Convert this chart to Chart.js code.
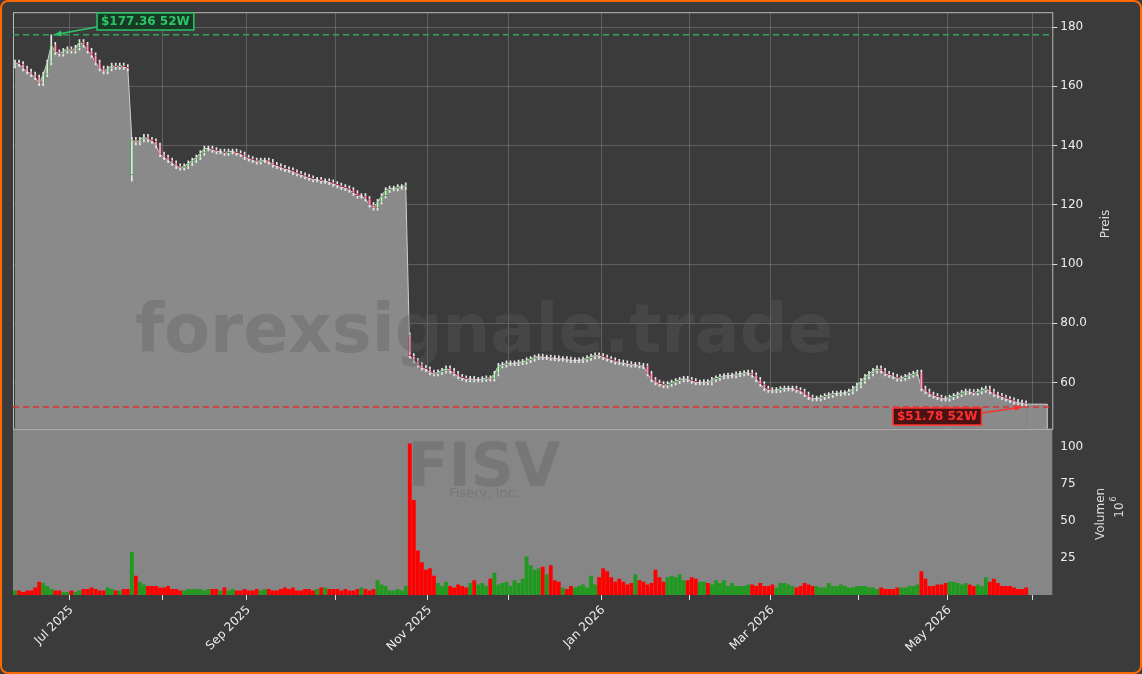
<!DOCTYPE html>
<html>
<head>
<meta charset="utf-8">
<script src="https://cdn.jsdelivr.net/npm/chart.js@4.4.1/dist/chart.umd.min.js"></script>
<style>
  html, body { margin: 0; padding: 0; background: #3b3b3b; }
  #wrap { width: 1138px; height: 670px; border: 2px solid #ff6a00; border-radius: 8px; background: #3b3b3b; overflow: hidden; }
</style>
</head>
<body>
<div id="wrap"><canvas id="c" width="1138" height="670"></canvas></div>
<script>
// Schlusskurse, erster Handelstag 11.06.2025
const closes = [
  168,167.5,166,165,164,163,161,164,168,174,
  171.5,171,172,172.5,172,173,175,174,172,170.5,
  168,166,165,166,167,166.5,167,166.5,166,142,
  141,142,143,142,141.5,140,137,136,135,134,
  133,132.5,133,134,135,136,137.5,139,139,138.5,
  138,138,137.5,138,138,137.5,137,136,135.5,135,
  134.5,135,135,134.5,133.5,133,132.5,132,131.7,131,
  130.5,130,129.5,129,128.5,128.5,128,128,127.6,127,
  126.5,126,125.6,125,124,123,123,122,120,119,
  121,123,125,125.5,125.5,126,126,126.6,69,67.4,
  66,65,64.5,63.4,63,63.5,64,64.8,64,63,
  62,61.5,61,61.3,61,61,61.2,61.5,61.3,63,
  65.7,66,66.5,66.5,66.5,66.8,67,67.5,68,68.5,
  68.8,68.5,68.5,68.3,68.2,68,68,67.8,67.5,67.5,
  67.5,67.8,68.3,68.8,69.2,69,68.5,68,67.5,67,
  66.8,66.5,66.3,66,66,65.7,65.5,63,61,60,
  59.5,59,59.5,60,60.5,61,61.3,61,60.5,60,
  60,60.2,60,61,61.5,62,62.2,62.4,62.4,62.8,
  63,63.2,63.4,62.5,61,59.5,58,57.5,57.3,57.5,
  57.8,58,58,58,57.5,57,56,55,54.6,54.6,
  55,55.5,55.8,56.3,56.3,56.5,56.5,57,58,59,
  60.5,62,63,64,64.8,64,63,62.5,62,61.3,
  61.5,62,62.5,63,63.4,58,57,56,55.5,55,
  54.6,54.5,55,55.5,56,56.6,57,56.8,56.5,57,
  57.5,58,57,56,55.6,55,54.5,54,53.5,53.3,
  53,52.7
];
// Eröffnung an Gap-Tagen
const gapOpens = { 29: 130, 98: 76 };

// Volumen in Mio.
const volumes = [
  3,3,2,3,3,5,9,8,6,4, 3,3,2,2,3,2,3,4,4,5, 4,3,3,5,4,3,3,4,4,29,
  13,9,7,6,6,6,5,5,6,4, 4,3,3,4,4,4,4,3,4,4, 4,3,5,3,4,3,3,4,3,3,
  4,3,4,4,3,3,4,5,4,5, 3,3,4,4,3,4,5,5,4,4, 4,3,4,3,3,4,5,4,3,4,
  10,7,6,3,3,4,3,6,102,64, 30,22,17,18,13,8,6,9,6,5, 7,6,5,8,10,7,8,6,11,15,
  7,8,9,6,10,8,11,26,20,17, 18,19,14,20,10,9,5,4,6,5, 6,7,5,13,7,12,18,16,12,9,
  11,9,7,8,14,10,9,7,8,17, 12,9,12,13,12,14,10,10,12,11, 9,9,8,7,10,8,10,6,8,6,
  6,6,7,7,6,8,6,6,7,5, 8,8,7,6,5,6,8,7,6,6, 5,5,8,6,6,7,6,5,5,6,
  6,6,5,5,4,5,4,4,4,5, 5,5,6,6,7,16,11,6,6,7, 7,8,9,9,8,7,8,7,6,7,
  6,12,9,11,8,6,6,6,5,4, 4,5
];

const high52 = 177.36, low52 = 51.78;
const highIdx = 9, lowIdx = 251;
const axisSlots = 258; // Achse reicht etwas über den letzten Kerzentag hinaus
const priceTicks = [60, 80, 100, 120, 140, 160, 180];
const volTicks = [25, 50, 75, 100];
const labelMonths = [6, 8, 10, 0, 2, 4]; // Jul Sep Nov Jan Mar May
const monthNames = ['Jan','Feb','Mar','Apr','May','Jun','Jul','Aug','Sep','Oct','Nov','Dec'];

// Handelstage (Mo-Fr)
const dates = [];
let d = new Date(2025, 5, 11);
while (dates.length < axisSlots) {
  if (d.getDay() !== 0 && d.getDay() !== 6) dates.push(new Date(d));
  d.setDate(d.getDate() + 1);
}
const monthStart = dates.map((dt, i) => i > 0 && dt.getMonth() !== dates[i - 1].getMonth());

const opens = closes.map((c, i) => gapOpens[i] !== undefined ? gapOpens[i] : (i === 0 ? c - 1 : closes[i - 1]));
const up = closes.map((c, i) => c >= opens[i]);
const bodies = closes.map((c, i) => [opens[i], c]);
const wicks = closes.map((c, i) => {
  let hi = Math.max(c, opens[i]) + 0.8, lo = Math.min(c, opens[i]) - 0.8;
  if (i === highIdx) hi = high52;
  if (i === 29) lo = 128;
  if (i === lowIdx) lo = low52;
  return [lo, hi];
});

function vText(ctx, text, x, y) {
  ctx.save();
  ctx.translate(x, y);
  ctx.rotate(-Math.PI / 2);
  ctx.textAlign = 'center';
  ctx.textBaseline = 'middle';
  ctx.fillText(text, 0, 0);
  ctx.restore();
}

const bgPlugin = {
  id: 'bg',
  beforeDatasetsDraw(chart) {
    const { ctx, chartArea } = chart;
    const y = chart.scales.y, yv = chart.scales.yv, x = chart.scales.x;
    ctx.save();
    // Fläche bis zum Achsenende weiterführen
    const lx = x.getPixelForValue(closes.length - 1), ly = y.getPixelForValue(closes[closes.length - 1]);
    ctx.fillStyle = '#8a8a8a';
    ctx.fillRect(lx, ly, chartArea.right - 5 - lx, y.bottom - ly);
    ctx.strokeStyle = '#cfcfcf';
    ctx.beginPath(); ctx.moveTo(lx, ly); ctx.lineTo(chartArea.right - 5, ly); ctx.lineTo(chartArea.right - 5, y.bottom); ctx.stroke();
    ctx.fillStyle = '#868686';
    ctx.fillRect(chartArea.left, yv.top, chartArea.right - chartArea.left, yv.bottom - yv.top);
    ctx.textAlign = 'center';
    ctx.fillStyle = 'rgba(110,110,110,0.6)';
    ctx.font = 'bold 60px "DejaVu Sans"';
    ctx.fillText('FISV', 482, 484);
    ctx.font = '13px "DejaVu Sans"';
    ctx.fillText('Fiserv, Inc.', 482, 495);
    ctx.restore();
  },
  afterDatasetsDraw(chart) {
    const { ctx, chartArea } = chart;
    const x = chart.scales.x, y = chart.scales.y;
    ctx.save();
    // Wasserzeichen
    ctx.textAlign = 'center';
    ctx.fillStyle = 'rgba(93,93,93,0.35)';
    ctx.font = 'bold 67px "DejaVu Sans"';
    ctx.fillText('forexsignale.trade', 482, 350);
    // Panel-Rahmen
    ctx.strokeStyle = '#bbbbbb';
    ctx.lineWidth = 1;
    ctx.strokeRect(chartArea.left + 0.5, chartArea.top + 0.5, chartArea.right - chartArea.left, y.bottom - chartArea.top);
    // 52W Linien
    [[high52, '#2ea85a'], [low52, '#e03030']].forEach(([v, col]) => {
      const py = y.getPixelForValue(v);
      ctx.strokeStyle = col;
      ctx.lineWidth = 1.5;
      ctx.setLineDash([6, 4]);
      ctx.beginPath(); ctx.moveTo(chartArea.left, py); ctx.lineTo(chartArea.right, py); ctx.stroke();
    });
    ctx.setLineDash([]);
    function label(text, bx, by, col, bg, tx, ty, fromX, fromY) {
      ctx.font = 'bold 12px "DejaVu Sans"';
      const w = ctx.measureText(text).width + 8;
      ctx.strokeStyle = col; ctx.lineWidth = 1.5;
      ctx.beginPath(); ctx.moveTo(fromX, fromY); ctx.lineTo(tx, ty); ctx.stroke();
      const a = Math.atan2(ty - fromY, tx - fromX);
      ctx.fillStyle = col;
      ctx.beginPath(); ctx.moveTo(tx, ty);
      ctx.lineTo(tx - 8 * Math.cos(a - 0.4), ty - 8 * Math.sin(a - 0.4));
      ctx.lineTo(tx - 8 * Math.cos(a + 0.4), ty - 8 * Math.sin(a + 0.4));
      ctx.fill();
      ctx.fillStyle = bg;
      ctx.fillRect(bx, by, w, 17);
      ctx.strokeRect(bx, by, w, 17);
      ctx.fillStyle = col;
      ctx.textAlign = 'left'; ctx.textBaseline = 'middle';
      ctx.fillText(text, bx + 4, by + 9);
    }
    const hx = x.getPixelForValue(highIdx), hy = y.getPixelForValue(high52);
    label('$177.36 52W', 95, 11, '#2ec46a', '#173a24', hx + 3, hy, 96, hy - 8);
    const lx = x.getPixelForValue(lowIdx), ly = y.getPixelForValue(low52);
    label('$51.78 52W', 891, 406, '#ff3030', '#4a1212', lx - 4, ly, 980, ly + 6);
    // Achsentitel
    ctx.fillStyle = '#dddddd';
    ctx.font = '12px "DejaVu Sans"';
    vText(ctx, 'Preis', 1104, 222);
    vText(ctx, 'Volumen', 1099, 512);
    ctx.save();
    ctx.translate(1118, 508);
    ctx.rotate(-Math.PI / 2);
    ctx.textAlign = 'center';
    ctx.textBaseline = 'middle';
    ctx.fillText('10', 0, 0);
    ctx.font = '8px "DejaVu Sans"';
    ctx.fillText('6', 11, -6);
    ctx.restore();
    ctx.restore();
  }
};

new Chart(document.getElementById('c'), {
  type: 'bar',
  data: {
    labels: dates.map(dt => monthNames[dt.getMonth()] + ' ' + dt.getFullYear()),
    datasets: [
      { type: 'line', data: closes, yAxisID: 'y', borderColor: '#cfcfcf', borderWidth: 1,
        backgroundColor: '#8a8a8a', fill: 'origin', pointRadius: 0, tension: 0, order: 5 },
      { data: wicks, yAxisID: 'y', grouped: false, barThickness: 1,
        backgroundColor: '#e8e8e8', order: 3 },
      { data: bodies, yAxisID: 'y', grouped: false, barPercentage: 0.75, categoryPercentage: 1,
        backgroundColor: up.map(u => u ? '#d9f0d9' : '#f0a0b4'),
        borderColor: up.map(u => u ? '#3a9a3a' : '#c83058'), borderWidth: 0.8,
        borderSkipped: false, order: 2 },
      { data: volumes, yAxisID: 'yv', grouped: false, barPercentage: 0.95, categoryPercentage: 1,
        backgroundColor: up.map(u => u ? '#1f9a1f' : '#ff0000'), order: 1 }
    ]
  },
  options: {
    responsive: false,
    animation: false,
    layout: { padding: { left: 11, top: 10, right: 50, bottom: 14 } },
    plugins: { legend: { display: false }, tooltip: { enabled: false } },
    scales: {
      x: {
        grid: {
          color: ctx => monthStart[ctx.index] ? 'rgba(140,140,140,0.45)' : 'rgba(0,0,0,0)',
          tickColor: ctx => monthStart[ctx.index] ? '#dddddd' : 'rgba(0,0,0,0)',
          tickLength: 5
        },
        border: { display: false },
        ticks: {
          autoSkip: false, maxRotation: 45, minRotation: 45, color: '#eeeeee',
          font: { family: 'DejaVu Sans', size: 12 },
          callback: function (v, i) {
            return monthStart[i] && labelMonths.includes(dates[i].getMonth()) ? this.getLabelForValue(v) : '';
          }
        }
      },
      y: {
        position: 'right', stack: 'p', stackWeight: 416, offset: false,
        min: 44.4, max: 185,
        grid: { color: 'rgba(140,140,140,0.45)', tickColor: '#dddddd', tickLength: 5 },
        border: { display: false },
        afterBuildTicks: s => { s.ticks = priceTicks.map(v => ({ value: v })); },
        ticks: { color: '#eeeeee', font: { family: 'DejaVu Sans', size: 12 },
          callback: v => v === 80 ? '80.0' : v }
      },
      yv: {
        position: 'right', stack: 'p', stackWeight: 166, offset: false,
        min: 0, max: 112,
        grid: { display: false, tickColor: '#dddddd', tickLength: 5, drawOnChartArea: false },
        border: { display: false },
        afterBuildTicks: s => { s.ticks = volTicks.map(v => ({ value: v })); },
        ticks: { color: '#eeeeee', font: { family: 'DejaVu Sans', size: 12 } }
      }
    }
  },
  plugins: [bgPlugin]
});
</script>
</body>
</html>
